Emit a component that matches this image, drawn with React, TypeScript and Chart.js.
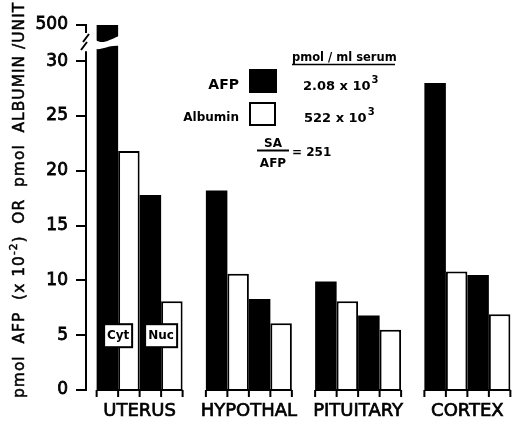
import React, { useEffect, useRef } from "react";
import { Chart, registerables } from "chart.js";

Chart.register(...registerables);

const categories = ["UTERUS", "HYPOTHAL", "PITUITARY", "CORTEX"];
const cytAFP = [500, 18.2, 9.9, 28.0];
const cytAlbumin = [21.8, 10.6, 8.1, 10.8];
const nucAFP = [17.8, 8.3, 6.8, 10.5];
const nucAlbumin = [8.1, 6.1, 5.5, 6.9];
const yTicks = [0, 5, 10, 15, 20, 25, 30];
const breakTickLabel = "500";
const BREAK_AT = 30;
const BREAK_POS = 33.3;

const FONT = '"DejaVu Sans", Verdana, sans-serif';

const toAxis = (v: number) => (v > BREAK_AT ? BREAK_POS : v);

const decor = {
  id: "decor",
  afterDatasetsDraw(chart: any) {
    const ctx: CanvasRenderingContext2D = chart.ctx;
    const y = chart.scales.y;
    const area = chart.chartArea;
    const ax = area.left + 1;
    const y0 = y.getPixelForValue(0);
    const yTop = y.getPixelForValue(BREAK_POS);
    const y30 = y.getPixelForValue(BREAK_AT);
    ctx.save();
    ctx.strokeStyle = "#000";
    ctx.fillStyle = "#000";
    ctx.lineWidth = 2;
    // broken y axis
    ctx.beginPath();
    ctx.moveTo(ax, y0 + 1);
    ctx.lineTo(ax, y30 - 10);
    ctx.moveTo(ax, yTop - 1);
    ctx.lineTo(ax, yTop + 8);
    ctx.stroke();
    ctx.beginPath();
    ctx.moveTo(ax - 3, yTop + 17);
    ctx.lineTo(ax + 3, yTop + 9);
    ctx.moveTo(ax - 5, yTop + 25);
    ctx.lineTo(ax + 1, yTop + 17);
    ctx.stroke();

    const metas = [0, 1, 2, 3].map((i) => chart.getDatasetMeta(i));
    // break in the tall bar(s)
    metas.forEach((meta: any, di: number) => {
      const src = [cytAFP, cytAlbumin, nucAFP, nucAlbumin][di];
      meta.data.forEach((bar: any, ci: number) => {
        if (src[ci] > BREAK_AT) {
          const w = bar.width;
          const l = bar.x - w / 2 - 1;
          const r = bar.x + w / 2 + 1;
          ctx.fillStyle = "#fff";
          ctx.beginPath();
          ctx.moveTo(l, yTop + 15);
          ctx.bezierCurveTo(l + w * 0.35, yTop + 20, l + w * 0.6, yTop + 15, r, yTop + 11);
          ctx.lineTo(r, yTop + 21);
          ctx.bezierCurveTo(l + w * 0.6, yTop + 20, l + w * 0.35, yTop + 25, l, yTop + 24);
          ctx.closePath();
          ctx.fill();
        }
      });
    });

    // group baselines with ticks
    ctx.fillStyle = "#000";
    ctx.strokeStyle = "#000";
    ctx.lineWidth = 2;
    categories.forEach((_, ci) => {
      const first = metas[0].data[ci];
      const last = metas[3].data[ci];
      const l = first.x - first.width / 2;
      const r = last.x + last.width / 2;
      ctx.beginPath();
      ctx.moveTo(l, y0);
      ctx.lineTo(r, y0);
      const edges = [l, ...metas.map((m: any) => m.data[ci].x + m.data[ci].width / 2)];
      edges.forEach((ex) => {
        ctx.moveTo(ex, y0);
        ctx.lineTo(ex, y0 + 7);
      });
      ctx.stroke();
    });

    // Cyt / Nuc labels on first group
    const yc = y.getPixelForValue(5);
    [
      { txt: "Cyt", di: 0, w: 28 },
      { txt: "Nuc", di: 2, w: 32 },
    ].forEach((b) => {
      const bar = metas[b.di].data[0];
      const bx = bar.x + bar.width / 2;
      ctx.fillStyle = "#fff";
      ctx.fillRect(bx - b.w / 2, yc - 11, b.w, 23);
      ctx.strokeRect(bx - b.w / 2, yc - 11, b.w, 23);
      ctx.fillStyle = "#000";
      ctx.font = `bold 12px ${FONT}`;
      ctx.textAlign = "center";
      ctx.textBaseline = "middle";
      ctx.fillText(b.txt, bx, yc + 1);
    });
    ctx.restore();
  },
  afterDraw(chart: any) {
    const ctx: CanvasRenderingContext2D = chart.ctx;
    ctx.save();
    ctx.fillStyle = "#000";
    ctx.strokeStyle = "#000";

    // y axis title (rotated), fitted to span from y=398 to y=3
    ctx.save();
    ctx.translate(20, 398);
    ctx.rotate(-Math.PI / 2);
    ctx.textBaseline = "middle";
    ctx.textAlign = "left";
    (ctx as any).letterSpacing = "1px";
    const parts: [string, boolean][] = [
      ["pmol  AFP  (x 10", false],
      ["-2", true],
      [")  OR  pmol  ALBUMIN /UNIT", false],
    ];
    const measure = (s: number) => {
      let tot = 0;
      parts.forEach(([t, sup]) => {
        ctx.font = `${sup ? s * 0.68 : s}px ${FONT}`;
        tot += ctx.measureText(t).width;
      });
      return tot;
    };
    const size = 16 * (395 / measure(16));
    let px = 0;
    ctx.lineWidth = 0.5;
    parts.forEach(([t, sup]) => {
      ctx.font = `${sup ? size * 0.68 : size}px ${FONT}`;
      const yy = sup ? -size * 0.38 : 0;
      ctx.fillText(t, px, yy);
      ctx.strokeText(t, px, yy);
      px += ctx.measureText(t).width;
    });
    ctx.restore();

    // legend
    ctx.textBaseline = "alphabetic";
    ctx.textAlign = "left";
    ctx.font = `bold 11.5px ${FONT}`;
    ctx.fillText("pmol / ml serum", 292, 61);
    ctx.lineWidth = 1.5;
    ctx.beginPath();
    ctx.moveTo(292, 64.5);
    ctx.lineTo(395, 64.5);
    ctx.stroke();

    ctx.textAlign = "right";
    ctx.font = `bold 14px ${FONT}`;
    ctx.fillText("AFP", 239, 89);
    ctx.font = `bold 12px ${FONT}`;
    ctx.fillText("Albumin", 239, 121);

    ctx.fillRect(249, 69, 28, 24);
    ctx.lineWidth = 2;
    ctx.strokeRect(250, 103, 25, 22);

    ctx.textAlign = "left";
    const sci = (a: string, x: number, yb: number) => {
      ctx.font = `bold 13px ${FONT}`;
      ctx.fillText(a, x, yb);
      const w = ctx.measureText(a).width;
      ctx.font = `bold 10px ${FONT}`;
      ctx.fillText("3", x + w + 1, yb - 7);
    };
    sci("2.08 x 10", 303, 90);
    sci("522 x 10", 304, 122);

    ctx.textAlign = "center";
    ctx.font = `bold 12px ${FONT}`;
    ctx.fillText("SA", 273, 147);
    ctx.fillText("AFP", 273, 167);
    ctx.beginPath();
    ctx.moveTo(257, 150.5);
    ctx.lineTo(289, 150.5);
    ctx.stroke();
    ctx.textAlign = "left";
    ctx.font = `bold 12px ${FONT}`;
    ctx.fillText("= 251", 292, 156);
    ctx.restore();
  },
};

export default function App() {
  const ref = useRef<HTMLCanvasElement>(null);
  useEffect(() => {
    const white = {
      backgroundColor: "#fff",
      borderColor: "#000",
      borderWidth: 2,
      borderSkipped: "start" as const,
    };
    const black = { backgroundColor: "#000", borderWidth: 0 };
    const chart = new Chart(ref.current!, {
      type: "bar",
      data: {
        labels: categories,
        datasets: [
          { label: "Cyt AFP", data: cytAFP.map(toAxis), ...black },
          { label: "Cyt Albumin", data: cytAlbumin.map(toAxis), ...white },
          { label: "Nuc AFP", data: nucAFP.map(toAxis), ...black },
          { label: "Nuc Albumin", data: nucAlbumin.map(toAxis), ...white },
        ],
      },
      options: {
        responsive: false,
        animation: false,
        layout: { padding: { top: 25, left: 0, right: 0, bottom: 0 } },
        plugins: { legend: { display: false }, tooltip: { enabled: false } },
        datasets: { bar: { categoryPercentage: 0.787, barPercentage: 1 } },
        scales: {
          x: {
            grid: { display: false },
            border: { display: false },
            ticks: {
              color: "#000",
              font: { family: FONT, size: 18 },
              textStrokeColor: "#000",
              textStrokeWidth: 0.7,
              padding: 3,
              maxRotation: 0,
              autoSkip: false,
            },
            afterFit: (s: any) => {
              s.height = 36;
            },
          },
          y: {
            min: 0,
            max: BREAK_POS,
            afterBuildTicks: (s: any) => {
              s.ticks = [...yTicks, BREAK_POS].map((v) => ({ value: v }));
            },
            ticks: {
              color: "#000",
              font: { family: FONT, size: 17 },
              textStrokeColor: "#000",
              textStrokeWidth: 0.8,
              padding: 8,
              callback: (v: any) => (Number(v) > BREAK_AT ? breakTickLabel : String(v)),
            },
            grid: {
              drawOnChartArea: false,
              drawTicks: true,
              tickLength: 9,
              color: "#000",
              lineWidth: 2,
            },
            border: { display: false },
            afterFit: (s: any) => {
              s.width = 85;
            },
          },
        },
      },
      plugins: [decor],
    } as any);
    return () => chart.destroy();
  }, []);
  return (
    <div
      style={{
        position: "fixed",
        left: 0,
        top: 0,
        width: 513,
        height: 426,
        overflow: "hidden",
        background: "#fff",
      }}
    >
      <canvas ref={ref} width={522} height={426} style={{ display: "block" }} />
    </div>
  );
}
